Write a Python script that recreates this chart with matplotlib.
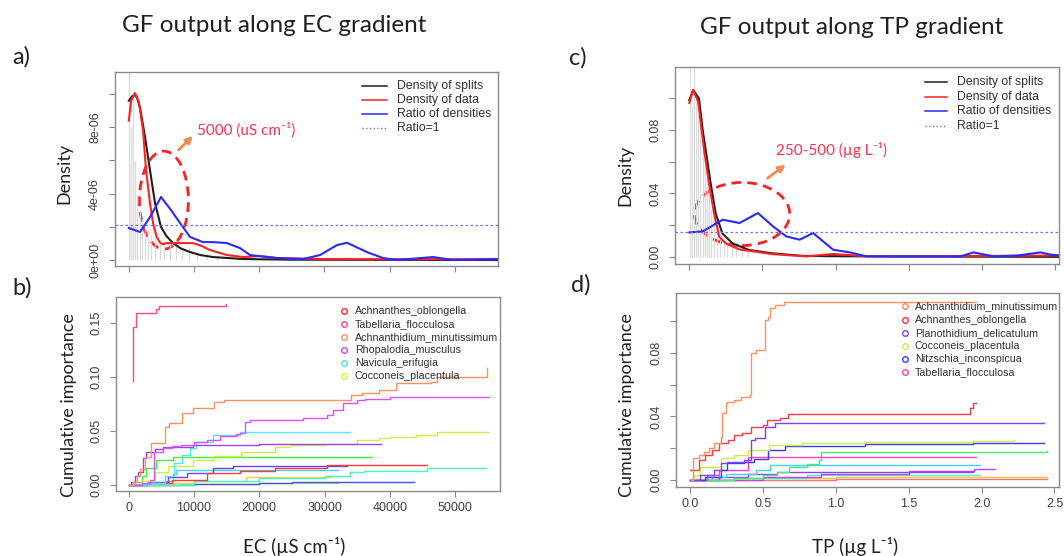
import matplotlib
matplotlib.use('Agg')
import matplotlib.pyplot as plt
from matplotlib.patches import Ellipse
from matplotlib.lines import Line2D

# ---------------- data: panel a (EC density) ----------------
ec_split_x = [60, 400, 750, 1000, 1300, 1700, 2100, 2500, 3000, 3500, 4100, 4800, 5500, 6300, 7200, 8200, 9300, 10500, 12000, 13500]
ec_split_h = [11.3e-6, 8e-6, 9.9e-6, 6e-6, 4e-6, 3e-6, 2.5e-6, 2.2e-6, 1.8e-6, 1.5e-6, 1.4e-6, 1.2e-6, 1.0e-6, 0.9e-6, 1.2e-6, 0.7e-6, 0.8e-6, 0.5e-6, 0.4e-6, 0.3e-6]

ec_splits_x = [50, 500, 900, 1300, 1800, 2530, 3290, 4060, 4980, 5800, 6810, 8000, 9420, 11000, 12940, 17530, 25000, 56500]
ec_splits_y = [9.6e-6, 9.85e-6, 9.95e-6, 9.8e-6, 9.1e-6, 7.41e-6, 5.42e-6, 3.43e-6, 1.99e-6, 1.45e-6, 1.02e-6, 0.7e-6, 0.48e-6, 0.3e-6, 0.18e-6, 0.06e-6, 0.02e-6, 0.0]

ec_data_x = [50, 400, 995, 1600, 2220, 2680, 3290, 3750, 4300, 4820, 5300, 5740, 6360, 9880, 11200, 12480, 15080, 17530, 20140, 22740, 29790, 40000, 56500]
ec_data_y = [8.4e-6, 9.6e-6, 10.06e-6, 9.5e-6, 7.83e-6, 5.42e-6, 3.43e-6, 2.23e-6, 1.4e-6, 1.05e-6, 0.95e-6, 1.02e-6, 1.02e-6, 1.02e-6, 0.85e-6, 0.6e-6, 0.3e-6, 0.18e-6, 0.24e-6, 0.12e-6, 0.06e-6, 0.05e-6, 0.05e-6]

ec_ratio_x = [50, 1760, 3290, 4980, 6510, 7890, 9420, 11410, 12940, 15080, 17070, 18610, 22740, 26720, 29330, 31930, 33460, 36520, 38970, 41120, 46630, 49690, 56500]
ec_ratio_y = [1.93e-6, 1.69e-6, 2.59e-6, 3.80e-6, 3.01e-6, 2.23e-6, 1.39e-6, 1.08e-6, 1.08e-6, 1.02e-6, 0.72e-6, 0.30e-6, 0.12e-6, 0.06e-6, 0.30e-6, 0.90e-6, 1.04e-6, 0.48e-6, 0.12e-6, 0.0, 0.18e-6, 0.0, 0.06e-6]
ec_ratio1 = 2.1e-6

# ---------------- data: panel c (TP density) ----------------
tp_split_x = [0.003, 0.02, 0.032, 0.045, 0.06, 0.075, 0.09, 0.105, 0.12, 0.135, 0.15, 0.17, 0.19, 0.21, 0.235, 0.26, 0.29, 0.32, 0.36, 0.40]
tp_split_h = [0.1196, 0.095, 0.1196, 0.10, 0.09, 0.085, 0.07, 0.06, 0.05, 0.045, 0.03, 0.028, 0.02, 0.015, 0.012, 0.01, 0.008, 0.006, 0.005, 0.004]

tp_splits_x = [0.0, 0.027, 0.066, 0.091, 0.112, 0.146, 0.180, 0.226, 0.295, 0.409, 0.569, 0.775, 1.0, 1.5, 2.0, 2.52]
tp_splits_y = [0.0987, 0.105, 0.0997, 0.080, 0.0672, 0.0462, 0.0274, 0.0148, 0.0085, 0.0043, 0.0022, 0.0006, 0.0004, 0.0002, 0.0001, 0.0]

tp_data_x = [0.0, 0.025, 0.06, 0.101, 0.135, 0.169, 0.204, 0.249, 0.341, 0.569, 0.8, 0.983, 1.212, 1.6, 2.0, 2.52]
tp_data_y = [0.097, 0.105, 0.098, 0.0672, 0.0462, 0.0274, 0.0127, 0.0085, 0.0047, 0.0017, 0.0003, 0.0018, 0.0004, 0.0004, 0.0006, 0.0008]

tp_ratio_x = [0.0, 0.091, 0.228, 0.343, 0.469, 0.572, 0.663, 0.754, 0.846, 0.914, 0.983, 1.097, 1.212, 1.852, 1.943, 2.08, 2.24, 2.40, 2.47, 2.52]
tp_ratio_y = [0.0154, 0.0160, 0.0234, 0.0213, 0.0276, 0.0192, 0.0129, 0.0108, 0.0150, 0.0098, 0.0045, 0.0028, 0.0003, 0.0003, 0.0028, 0.0003, 0.0008, 0.0028, 0.0014, 0.0010]
tp_ratio1 = 0.0157

# ---------------- data: panel b (EC cumulative importance) ----------------
b_tabellaria_x = [600, 640, 700, 1100, 4200, 4700, 14950]
b_tabellaria_y = [0.0965, 0.140, 0.147, 0.160, 0.163, 0.166, 0.1676]
b_achnanthidium_x = [0, 600, 1200, 1700, 2430, 3490, 5600, 6140, 8240, 9830, 12990, 14580, 34090, 35670, 38300, 40930, 46220, 47270, 54650, 54920]
b_achnanthidium_y = [0.0, 0.003, 0.008, 0.015, 0.0263, 0.0387, 0.0541, 0.0572, 0.0665, 0.0712, 0.0773, 0.0788, 0.0835, 0.0851, 0.0881, 0.0943, 0.0960, 0.1005, 0.1005, 0.1083]
b_rhopalodia_x = [0, 2000, 3200, 3900, 5250, 6660, 8000, 10000, 11930, 14000, 16500, 17000, 17760, 18530, 26690, 30320, 31330, 32860, 34920, 36190, 40010, 55180]
b_rhopalodia_y = [0.0, 0.002, 0.005, 0.031, 0.034, 0.036, 0.037, 0.040, 0.042, 0.045, 0.047, 0.048, 0.0587, 0.0603, 0.0619, 0.0649, 0.0696, 0.0758, 0.0788, 0.0800, 0.0819, 0.0819]
b_violet_x = [0, 400, 1000, 1420, 2190, 2700, 4000, 5250, 9850, 20000, 38600]
b_violet_y = [0.0, 0.003, 0.008, 0.0123, 0.0248, 0.0309, 0.033, 0.0355, 0.0371, 0.0378, 0.0378]
b_navicula_x = [0, 3000, 5500, 7000, 8200, 9340, 10350, 12910, 17000, 33900]
b_navicula_y = [0.0, 0.002, 0.008, 0.020, 0.028, 0.034, 0.040, 0.0464, 0.0494, 0.0494]
b_green_x = [0, 1000, 2000, 2700, 4230, 6780, 37210]
b_green_y = [0.0, 0.003, 0.008, 0.0155, 0.0232, 0.0263, 0.0263]
b_cocconeis_x = [0, 2000, 4000, 6000, 9830, 13000, 17210, 22480, 24700, 30000, 34920, 38300, 40010, 44000, 47170, 55180]
b_cocconeis_y = [0.0, 0.004, 0.012, 0.018, 0.0232, 0.027, 0.0309, 0.0355, 0.0371, 0.038, 0.0417, 0.0433, 0.0442, 0.046, 0.0494, 0.0494]
b_achnanthes_x = [0, 3000, 6660, 11930, 17000, 22480, 30400, 45680]
b_achnanthes_y = [0.0, 0.002, 0.0046, 0.0108, 0.013, 0.0155, 0.0186, 0.0186]
b_bluepurple_x = [0, 3000, 6000, 9000, 12910, 16000, 33400]
b_bluepurple_y = [0.0, 0.003, 0.007, 0.011, 0.016, 0.018, 0.018]
b_cyangreen_x = [0, 10000, 20000, 24700, 30000, 33900, 36000, 45640, 54650]
b_cyangreen_y = [0.0, 0.004, 0.006, 0.0062, 0.008, 0.0118, 0.013, 0.0155, 0.0155]
b_cyan_x = [0, 3000, 5500, 6800, 7200, 32000]
b_cyan_y = [0.0, 0.002, 0.004, 0.010, 0.0139, 0.0139]
b_blue_x = [0, 10000, 20000, 25000, 43700]
b_blue_y = [0.0, 0.001, 0.002, 0.0031, 0.0031]
b_yellow_x = [0, 5000, 10000, 18000, 31000]
b_yellow_y = [0.0, 0.002, 0.004, 0.007, 0.0077]
b_lgreen_x = [0, 8000, 20000, 32000]
b_lgreen_y = [0.0, 0.001, 0.002, 0.0025]

b_legend_names = ['Achnanthes_oblongella', 'Tabellaria_flocculosa', 'Achnanthidium_minutissimum',
                  'Rhopalodia_musculus', 'Navicula_erifugia', 'Cocconeis_placentula']
b_legend_cols = ['#ff2a2a', '#ff3f90', '#ff8c50', '#d040ff', '#40f0d0', '#d0f040']

# ---------------- data: panel d (TP cumulative importance) ----------------
d_achnanthidium_x = [0.005, 0.024, 0.06, 0.094, 0.13, 0.164, 0.21, 0.222, 0.246, 0.257, 0.30, 0.351, 0.409, 0.421, 0.456, 0.514, 0.538, 0.55, 0.584, 0.643, 1.963]
d_achnanthidium_y = [0.0, 0.0136, 0.0155, 0.0178, 0.020, 0.0231, 0.0272, 0.0419, 0.0482, 0.0493, 0.050, 0.0524, 0.0535, 0.0797, 0.0818, 0.1006, 0.1027, 0.108, 0.110, 0.1117, 0.1117]
d_achnanthes_x = [0.0, 0.06, 0.10, 0.15, 0.20, 0.26, 0.30, 0.36, 0.42, 0.50, 0.53, 0.62, 0.67, 1.92, 1.94, 1.963]
d_achnanthes_y = [0.0063, 0.0126, 0.0157, 0.0189, 0.0231, 0.0252, 0.0283, 0.0294, 0.0335, 0.0346, 0.0377, 0.0388, 0.0415, 0.0451, 0.0482, 0.0482]
d_planothidium_x = [0.0, 0.07, 0.164, 0.21, 0.257, 0.374, 0.421, 0.444, 0.514, 0.584, 0.80, 2.43]
d_planothidium_y = [0.0, 0.0031, 0.0063, 0.0105, 0.0115, 0.0126, 0.0252, 0.0262, 0.0335, 0.0356, 0.036, 0.036]
d_cocconeis_x = [0.0, 0.03, 0.07, 0.21, 0.30, 0.40, 0.54, 0.77, 1.2, 1.94, 2.22]
d_cocconeis_y = [0.0, 0.003, 0.0084, 0.0136, 0.016, 0.0189, 0.022, 0.0235, 0.024, 0.0247, 0.0252]
d_nitzschia_x = [0.0, 0.10, 0.21, 0.257, 0.374, 0.44, 0.538, 0.654, 1.2, 1.94, 2.43]
d_nitzschia_y = [0.0, 0.002, 0.0063, 0.0105, 0.0115, 0.013, 0.0189, 0.0214, 0.0225, 0.0231, 0.0235]
d_tabellaria_x = [0.0, 0.12, 0.20, 0.398, 1.963]
d_tabellaria_y = [0.0, 0.003, 0.0063, 0.0147, 0.0147]
d_green_x = [0.0, 0.3, 0.5, 0.6, 0.678, 0.80, 0.888, 0.90, 2.45]
d_green_y = [0.0, 0.001, 0.003, 0.005, 0.0084, 0.010, 0.0126, 0.0178, 0.0182]
d_cyan_x = [0.0, 0.15, 0.25, 0.45, 0.55, 1.986]
d_cyan_y = [0.0, 0.002, 0.004, 0.006, 0.0094, 0.0094]
d_violet1_x = [0.0, 0.2, 0.4, 0.6, 1.939]
d_violet1_y = [0.0, 0.002, 0.004, 0.0052, 0.0052]
d_violet2_x = [0.0, 0.5, 0.9, 1.5, 1.95, 2.09]
d_violet2_y = [0.0, 0.002, 0.004, 0.0055, 0.0068, 0.0068]
d_cyangreen_x = [0.0, 0.3, 0.8, 1.99]
d_cyangreen_y = [0.0, 0.001, 0.003, 0.0031]
d_yellow_x = [0.0, 0.4, 1.0, 2.45]
d_yellow_y = [0.0, 0.001, 0.002, 0.0021]
d_pink_x = [0.0, 1.0, 2.45]
d_pink_y = [0.0, 0.0004, 0.0005]

d_legend_names = ['Achnanthidium_minutissimum', 'Achnanthes_oblongella', 'Planothidium_delicatulum',
                  'Cocconeis_placentula', 'Nitzschia_inconspicua', 'Tabellaria_flocculosa']
d_legend_cols = ['#ff8c50', '#ff3040', '#8040ff', '#c8f040', '#3040ff', '#ff40c0']

density_labels = ['Density of splits', 'Density of data', 'Ratio of densities', 'Ratio=1']

# ---------------- figure ----------------
W, H = 1064, 556
fig = plt.figure(figsize=(W / 100, H / 100), dpi=100)
fig.patch.set_facecolor('white')

HUM = ['Lato', 'DejaVu Sans']
ARIAL = ['Liberation Sans', 'DejaVu Sans']
FRAME = '#8a8a8a'


def fx(px):
    return px / W


def fy(py):
    return 1 - py / H


def add_ax(l, t, r, b):
    return fig.add_axes([l / W, 1 - b / H, (r - l) / W, (b - t) / H])


def style(ax):
    for s in ax.spines.values():
        s.set_color(FRAME)
        s.set_linewidth(1.0)
    ax.tick_params(direction='out', length=4, width=0.8, color=FRAME,
                   labelsize=9, labelcolor='#404040')
    ax.tick_params(axis='x', pad=4)
    ax.tick_params(axis='y', pad=6)


def set_labels(ax, xt, xl, yt, yl):
    ax.set_xticks(xt)
    ax.set_xticklabels(xl, family=ARIAL)
    ax.set_yticks(yt)
    ax.set_yticklabels(yl, family=ARIAL, rotation=90, va='center')


def density_legend(x0, x1, xt, rows):
    cols = ['#202020', '#ff2020', '#2a2aff', '#7070ff']
    styles = ['-', '-', '-', ':']
    lws = [1.1, 1.1, 1.1, 1.0]
    for lab, c, ls, lw, r in zip(density_labels, cols, styles, lws, rows):
        fig.add_artist(Line2D([fx(x0), fx(x1)], [fy(r), fy(r)], color=c, ls=ls, lw=lw,
                              transform=fig.transFigure))
        fig.text(fx(xt), fy(r), lab, ha='left', va='center', fontsize=8.8,
                 family=ARIAL, color='#303030')


def species_legend(xm, xt, rows, names, cols):
    for lab, c, r in zip(names, cols, rows):
        fig.add_artist(Line2D([fx(xm)], [fy(r)], marker='o', ms=4, mfc='none', mec=c,
                              mew=1.0, ls='none', transform=fig.transFigure))
        fig.text(fx(xt), fy(r), lab, ha='left', va='center', fontsize=7.7,
                 family=ARIAL, color='#303030')


# ---- panel a ----
axa = add_ax(115, 72, 498, 266)
style(axa)
axa.vlines(ec_split_x, 0, ec_split_h, color='#dadada', lw=0.9)
axa.plot(ec_splits_x, ec_splits_y, color='#202020', lw=1.5, solid_joinstyle='round')
axa.plot(ec_data_x, ec_data_y, color='#ff2020', lw=1.5, solid_joinstyle='round')
axa.plot(ec_ratio_x, ec_ratio_y, color='#2a2aff', lw=1.5, solid_joinstyle='round')
axa.axhline(ec_ratio1, color='#7070ff', lw=0.9, ls=(0, (2, 2)))
axa.set_xlim(-2070, 56590)
axa.set_ylim(-0.36e-6, 11.33e-6)
set_labels(axa, [0, 10000, 20000, 30000, 40000, 50000], [''] * 6,
           [0, 2e-6, 4e-6, 6e-6, 8e-6, 10e-6], ['0e+00', '', '4e-06', '', '8e-06', ''])
axa.add_patch(Ellipse((5420, 3.61e-6), 7500, 5.9e-6, fill=False, ec='#ff2020',
                      lw=2.0, ls=(0, (3.5, 2.2))))
axa.annotate('', xy=(10170, 7.59e-6), xytext=(7370, 6.52e-6),
             arrowprops=dict(arrowstyle='-|>', color='#f08a50', lw=2.0, mutation_scale=10))
axa.text(10520, 7.83e-6, '5000 (uS cm\u207b\u00b9)', color='#ff3050', fontsize=11,
         family=HUM, ha='left', va='center')
density_legend(361.6, 387.4, 396.7, [86, 100, 114.3, 128.3])

# ---- panel c ----
axc = add_ax(675, 67, 1059, 264)
style(axc)
axc.vlines(tp_split_x, 0, tp_split_h, color='#dadada', lw=0.9)
axc.plot(tp_splits_x, tp_splits_y, color='#202020', lw=1.5, solid_joinstyle='round')
axc.plot(tp_data_x, tp_data_y, color='#ff2020', lw=1.5, solid_joinstyle='round')
axc.plot(tp_ratio_x, tp_ratio_y, color='#2a2aff', lw=1.5, solid_joinstyle='round')
axc.axhline(tp_ratio1, color='#7070ff', lw=0.9, ls=(0, (2, 2)))
axc.set_xlim(-0.098, 2.527)
axc.set_ylim(-0.0045, 0.1196)
set_labels(axc, [0, 0.5, 1.0, 1.5, 2.0, 2.5], [''] * 6,
           [0, 0.02, 0.04, 0.06, 0.08, 0.10], ['0.00', '', '0.04', '', '0.08', ''])
axc.add_patch(Ellipse((0.360, 0.0270), 0.652, 0.0398, fill=False, ec='#ff2020',
                      lw=2.0, ls=(0, (3.5, 2.2))))
axc.annotate('', xy=(0.674, 0.0591), xytext=(0.521, 0.0486),
             arrowprops=dict(arrowstyle='-|>', color='#f08a50', lw=2.0, mutation_scale=10))
axc.text(0.595, 0.0674, '250-500 (\u00b5g L\u207b\u00b9)', color='#ff3050', fontsize=11,
         family=HUM, ha='left', va='center')
density_legend(925.1, 947.2, 957.4, [81.7, 96.7, 110.7, 125.7])

# ---- panel b ----
axb = add_ax(116.4, 296.7, 500, 491)
style(axb)
b_series = [
    (b_lgreen_x, b_lgreen_y, '#90ff60'),
    (b_yellow_x, b_yellow_y, '#ffd040'),
    (b_blue_x, b_blue_y, '#4848ff'),
    (b_cyan_x, b_cyan_y, '#40d0ff'),
    (b_cyangreen_x, b_cyangreen_y, '#40f8c0'),
    (b_bluepurple_x, b_bluepurple_y, '#7040ff'),
    (b_achnanthes_x, b_achnanthes_y, '#ff3a3a'),
    (b_green_x, b_green_y, '#40f040'),
    (b_cocconeis_x, b_cocconeis_y, '#d0f040'),
    (b_navicula_x, b_navicula_y, '#50e8f0'),
    (b_violet_x, b_violet_y, '#a040ff'),
    (b_rhopalodia_x, b_rhopalodia_y, '#e050ff'),
    (b_achnanthidium_x, b_achnanthidium_y, '#ff9060'),
    (b_tabellaria_x, b_tabellaria_y, '#ff4a80'),
]
for xs, ys, c in b_series:
    axb.plot(xs, ys, color=c, lw=1.0, drawstyle='steps-post')
axb.set_xlim(-1880, 56860)
axb.set_ylim(-0.0056, 0.1747)
set_labels(axb, [0, 10000, 20000, 30000, 40000, 50000],
           ['0', '10000', '20000', '30000', '40000', '50000'],
           [0, 0.05, 0.10, 0.15], ['0.00', '0.05', '0.10', '0.15'])
species_legend(344.4, 354.7, [311, 324, 337, 350, 363.3, 376], b_legend_names, b_legend_cols)

# ---- panel d ----
axd = add_ax(676.4, 292.7, 1059, 487.3)
style(axd)
d_series = [
    (d_pink_x, d_pink_y, '#ff7070'),
    (d_yellow_x, d_yellow_y, '#ffc040'),
    (d_cyangreen_x, d_cyangreen_y, '#40f8c0'),
    (d_violet2_x, d_violet2_y, '#c040ff'),
    (d_violet1_x, d_violet1_y, '#9040ff'),
    (d_cyan_x, d_cyan_y, '#40d0ff'),
    (d_green_x, d_green_y, '#40f070'),
    (d_tabellaria_x, d_tabellaria_y, '#ff40c8'),
    (d_nitzschia_x, d_nitzschia_y, '#3a3aff'),
    (d_cocconeis_x, d_cocconeis_y, '#c8f040'),
    (d_planothidium_x, d_planothidium_y, '#8040ff'),
    (d_achnanthes_x, d_achnanthes_y, '#ff3a4a'),
    (d_achnanthidium_x, d_achnanthidium_y, '#ff9060'),
]
for xs, ys, c in d_series:
    axd.plot(xs, ys, color=c, lw=1.0, drawstyle='steps-post')
axd.set_xlim(-0.093, 2.531)
axd.set_ylim(-0.0046, 0.1178)
set_labels(axd, [0, 0.5, 1.0, 1.5, 2.0, 2.5], ['0.0', '0.5', '1.0', '1.5', '2.0', '2.5'],
           [0, 0.02, 0.04, 0.06, 0.08, 0.10], ['0.00', '', '0.04', '', '0.08', ''])
species_legend(904.6, 914.8, [306, 320, 332.7, 346, 359, 371.7], d_legend_names, d_legend_cols)

# ---- figure-level text ----
tc = '#202020'
fig.text(fx(273.8), fy(26), 'GF output along EC gradient', ha='center', va='center',
         fontsize=17.5, family=HUM, color=tc)
fig.text(fx(851.8), fy(27), 'GF output along TP gradient', ha='center', va='center',
         fontsize=17.5, family=HUM, color=tc)
for lab, x, y in [('a)', 12, 57), ('b)', 12, 288), ('c)', 569, 58), ('d)', 571, 285)]:
    fig.text(fx(x), fy(y), lab, ha='left', va='center', fontsize=17, family=HUM, color=tc)
fig.text(fx(64.5), fy(173.5), 'Density', rotation=90, ha='center', va='center',
         fontsize=13, family=HUM, color=tc)
fig.text(fx(625.7), fy(175), 'Density', rotation=90, ha='center', va='center',
         fontsize=13, family=HUM, color=tc)
fig.text(fx(69), fy(405.5), 'Cumulative importance', rotation=90, ha='center', va='center',
         fontsize=13, family=HUM, color=tc)
fig.text(fx(627), fy(405), 'Cumulative importance', rotation=90, ha='center', va='center',
         fontsize=13, family=HUM, color=tc)
fig.text(fx(294.5), fy(547), 'EC (\u00b5S cm\u207b\u00b9)', ha='center', va='center',
         fontsize=13.5, family=HUM, color=tc)
fig.text(fx(855), fy(547), 'TP (\u00b5g L\u207b\u00b9)', ha='center', va='center',
         fontsize=13.5, family=HUM, color=tc)

fig.savefig('out.png', dpi=100, facecolor='white')
